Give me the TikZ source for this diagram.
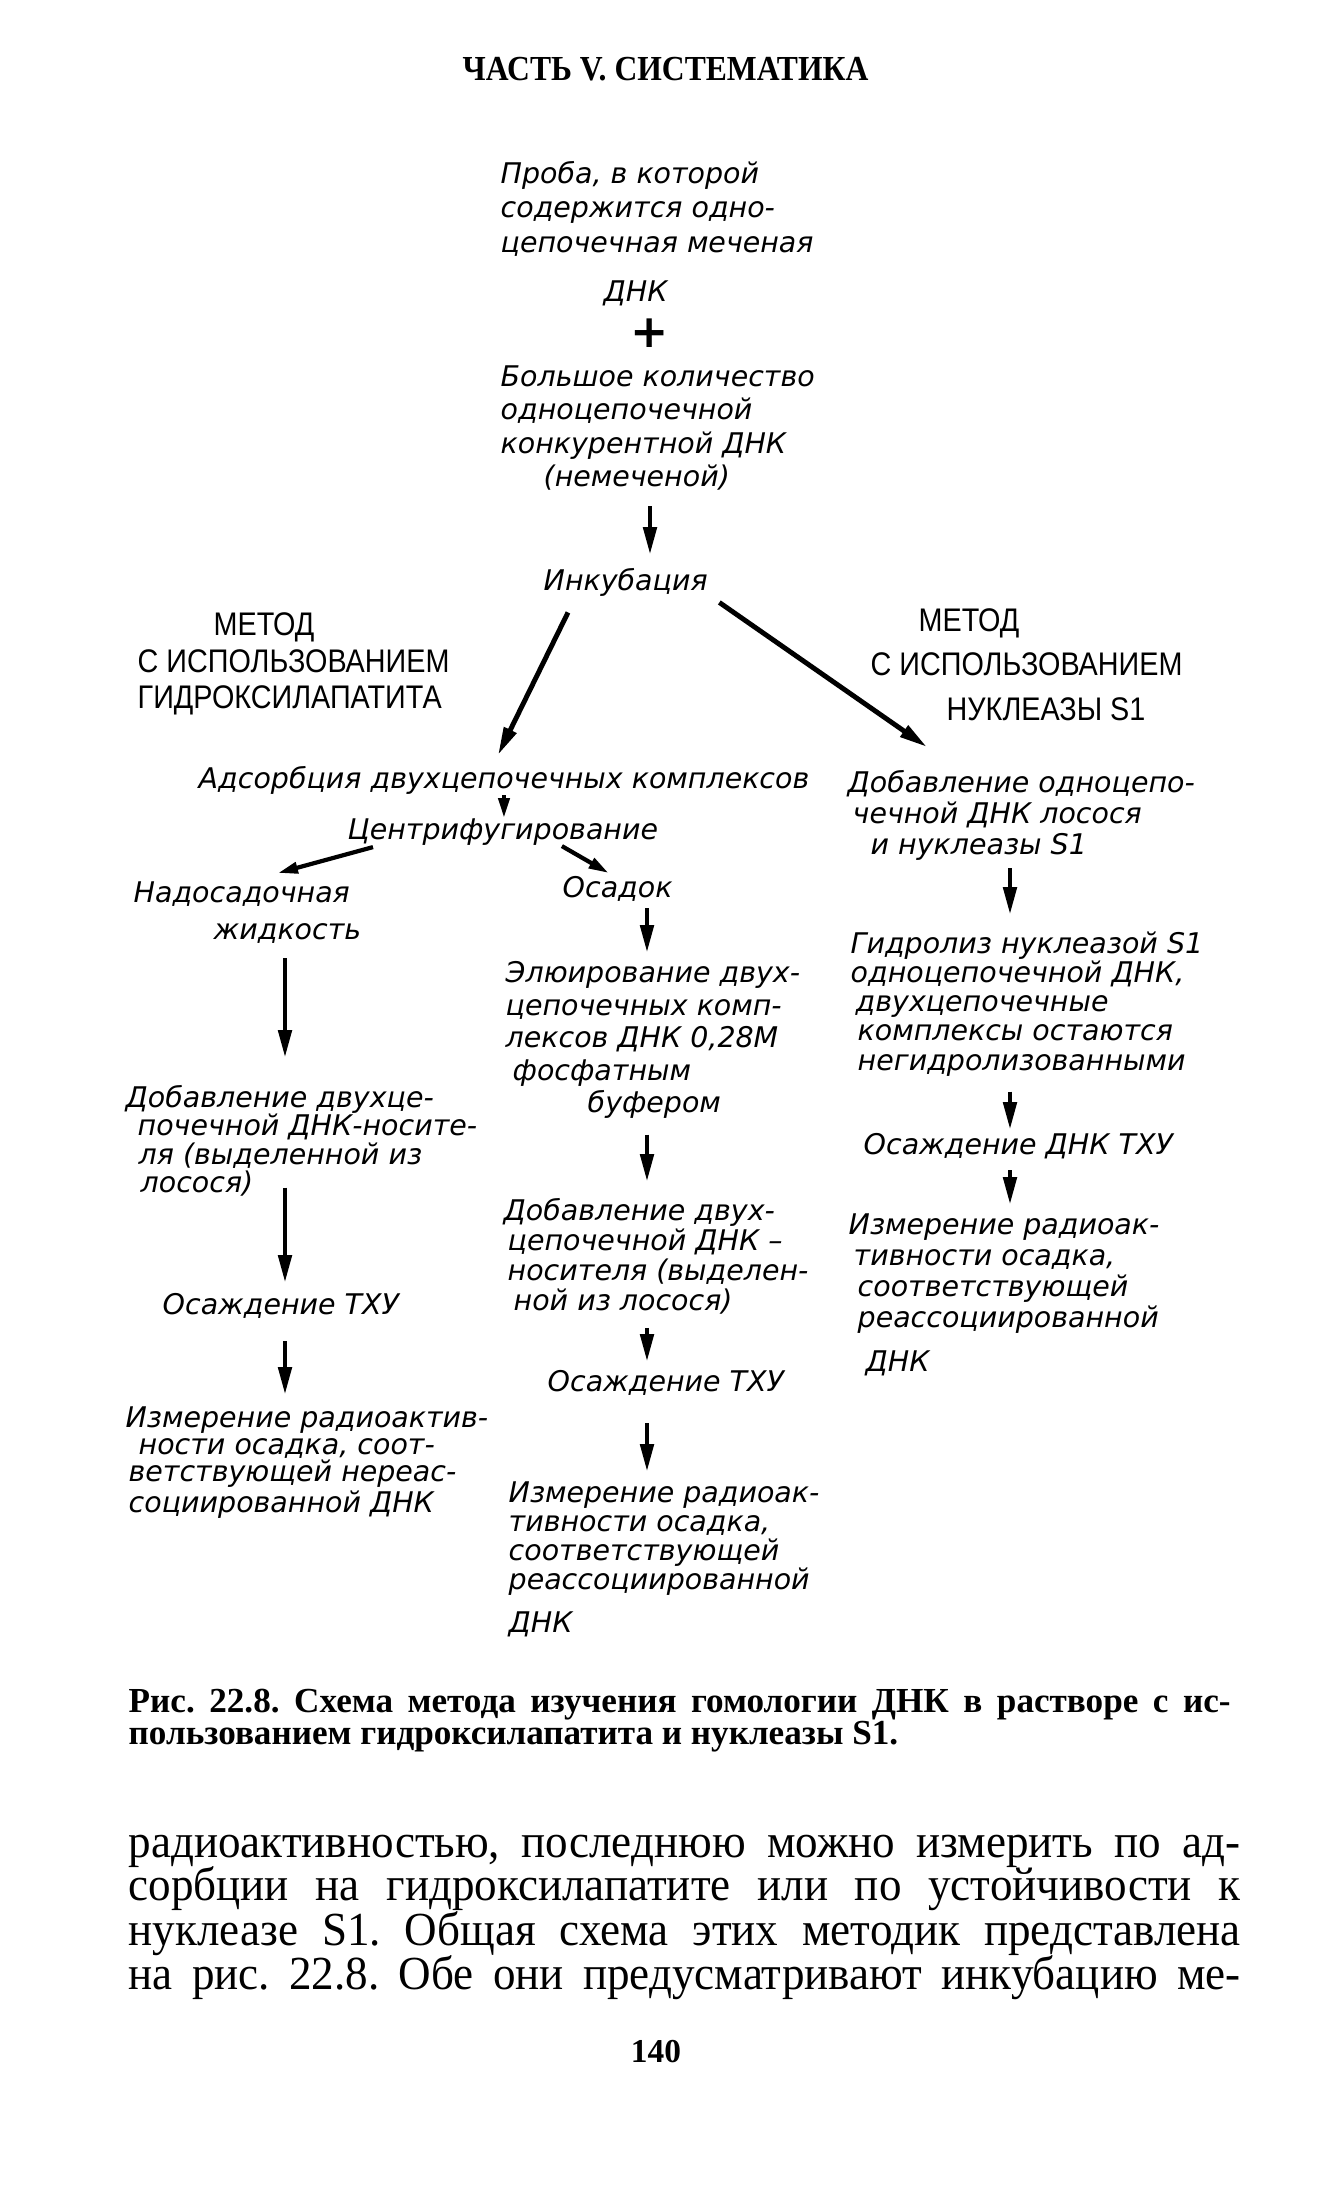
\documentclass[tikz,border=0pt]{standalone}
\usepackage{fontspec}
\setmainfont{Liberation Serif}
\newfontfamily\drawfont{DejaVu Sans Oblique}
\newfontfamily\plusfont{DejaVu Sans Bold}
\newfontfamily\titlefont[FakeStretch=0.88]{Liberation Sans}
\newfontfamily\headfont[FakeStretch=0.9]{Liberation Serif}
\newfontfamily\bodyfont[FakeStretch=0.95]{Liberation Serif}
\usetikzlibrary{arrows.meta}
\frenchspacing

\begin{document}
\begin{tikzpicture}[x=0.1mm, y=-0.1mm,
    hand/.style={font=\drawfont\fontsize{8.1pt}{#1}\selectfont, align=left, anchor=north west, inner sep=0pt},
    hand/.default=8.5pt,
    methodhead/.style={font=\titlefont\fontsize{9.3pt}{#1}\selectfont, align=left, anchor=north west, inner sep=0pt},
    bodyline/.style={anchor=base west, inner sep=0pt, font=\bodyfont\fontsize{13.5pt}{13.5pt}\selectfont},
    capline/.style={anchor=base west, inner sep=0pt, font=\bfseries\fontsize{10pt}{10pt}\selectfont},
    flow/.style={-{Triangle[length=2.8mm,width=1.3mm]}, line width=1.4pt},
    flowsm/.style={-{Triangle[length=2mm,width=1.1mm]}, line width=1.2pt}]
    \fill[white] (0,0) rectangle (1326,2185);
    \useasboundingbox (0,0) rectangle (1326,2185);

    % page header
    \node[font=\headfont\bfseries\fontsize{10pt}{10pt}\selectfont, anchor=north west, inner sep=0pt] (head) at (462,57) {ЧАСТЬ V. СИСТЕМАТИКА};

    % column axes
    \coordinate (mainaxis) at (650,0);
    \coordinate (colL) at (285,0);
    \coordinate (colM) at (647,0);
    \coordinate (colR) at (1010,0);

    % sample + competitor
    \node[hand=9.7pt] (probe) at (500,161) {Проба, в которой\\содержится одно-\\цепочечная меченая\\[4.3pt]\hspace*{10.3mm}ДНК};
    \node[font=\plusfont\fontsize{13pt}{13pt}\selectfont, inner sep=0pt] (plus) at (650,333) {+};
    \node[hand=9.5pt] (large) at (500,365) {Большое количество\\одноцепочечной\\конкурентной ДНК\\\hspace*{4.3mm}(немеченой)};
    \node[hand] (incub) at (543,568) {Инкубация};
    \draw[flow, shorten <=1.5mm, shorten >=1.3mm] (large.south -| mainaxis) -- (incub.north -| mainaxis);

    % method titles
    \node[methodhead=10.4pt] (hydroxy) at (137,612) {\hspace*{7.6mm}МЕТОД\\С ИСПОЛЬЗОВАНИЕМ\\ГИДРОКСИЛАПАТИТА};
    \node[methodhead=12.6pt] (nuclease) at (870,608) {\hspace*{4.8mm}МЕТОД\\С ИСПОЛЬЗОВАНИЕМ\\\hspace*{7.6mm}НУКЛЕАЗЫ S1};

    % hydroxylapatite branch
    \node[hand] (adsorb) at (198,766) {Адсорбция двухцепочечных комплексов};
    \node[hand] (centr) at (347,818) {Центрифугирование};
    \node[hand=10.5pt] (nad) at (133,881) {Надосадочная\\\hspace*{8mm}жидкость};
    \node[hand] (osad) at (562,876) {Осадок};
    \draw[flow] ([shift={(25,15)}]incub.south west) -- ([shift={(300,-11)}]adsorb.north west);
    \draw[flowsm] (adsorb.south) -- (adsorb.south |- centr.north);
    \draw[flowsm] ([shift={(26,1)}]centr.south west) -- ([shift={(145,-8)}]nad.north west);
    \draw[flowsm] ([shift={(59,0)}]centr.south) -- ([shift={(-9,-3)}]osad.north);

    % supernatant
    \node[hand=8pt] (dobL) at (125,1085) {Добавление двухце-\\\hspace*{1.2mm}почечной ДНК-носите-\\\hspace*{1.3mm}ля (выделенной из\\\hspace*{1.5mm}лосося)};
    \node[hand] (osL) at (162,1293) {Осаждение ТХУ};
    \node[hand=7.7pt] (izmL) at (125,1406) {Измерение радиоактив-\\\hspace*{1.3mm}ности осадка, соот-\\\hspace*{0.3mm}ветствующей нереас-\\\hspace*{0.3mm}социированной ДНК};
    \draw[flow, shorten <=1.4mm, shorten >=2.7mm] (nad.south -| colL) -- (dobL.north -| colL);
    \draw[flow, shorten <=-0.9mm, shorten >=1mm] (dobL.south -| colL) -- (osL.north -| colL);
    \draw[flow, shorten <=2.2mm, shorten >=1.1mm] (osL.south -| colL) -- (izmL.north -| colL);

    % pellet
    \node[hand=9.25pt] (elu) at (505,961) {Элюирование двух-\\цепочечных комп-\\лексов ДНК 0,28М\\\hspace*{0.7mm}фосфатным\\\hspace*{8.2mm}буфером};
    \node[hand=8.5pt] (dobM) at (503,1198) {Добавление двух-\\\hspace*{0.4mm}цепочечной ДНК –\\\hspace*{0.4mm}носителя (выделен-\\\hspace*{1mm}ной из лосося)};
    \node[hand] (osM) at (547,1370) {Осаждение ТХУ};
    \node[hand=8.25pt] (izmM) at (508,1481) {Измерение радиоак-\\тивности осадка,\\соответствующей\\реассоциированной\\[4pt]ДНК};
    \draw[flow, shorten <=0.6mm, shorten >=0.8mm] (osad.south -| colM) -- (elu.north -| colM);
    \draw[flow, shorten <=1.5mm, shorten >=1.6mm] (elu.south -| colM) -- (dobM.north -| colM);
    \draw[flow, shorten <=1.3mm, shorten >=0.8mm] (dobM.south -| colM) -- (osM.north -| colM);
    \draw[flow, shorten <=2.7mm, shorten >=0.9mm] (osM.south -| colM) -- (izmM.north -| colM);

    % nuclease S1 branch
    \node[hand=8.8pt] (dobR) at (847,770) {Добавление одноцепо-\\\hspace*{0.5mm}чечной ДНК лосося\\\hspace*{2.3mm}и нуклеазы S1};
    \node[hand=8.3pt] (hydr) at (850,931) {Гидролиз нуклеазой S1\\одноцепочечной ДНК,\\\hspace*{0.5mm}двухцепочечные\\\hspace*{0.7mm}комплексы остаются\\\hspace*{0.7mm}негидролизованными};
    \node[hand] (osR) at (863,1133) {Осаждение ДНК ТХУ};
    \node[hand=8.8pt] (izmR) at (848,1213) {Измерение радиоак-\\\hspace*{0.5mm}тивности осадка,\\\hspace*{0.9mm}соответствующей\\\hspace*{0.9mm}реассоциированной\\[3.7pt]\hspace*{1.7mm}ДНК};
    \draw[flow] ([shift={(11,5)}]incub.south east) -- ([shift={(80,-23)}]dobR.north west);
    \draw[flow, shorten <=0.7mm, shorten >=1.6mm] (dobR.south -| colR) -- (hydr.north -| colR);
    \draw[flow, shorten <=1.5mm, shorten >=0.3mm] (hydr.south -| colR) -- (osR.north -| colR);
    \draw[flow, shorten <=1mm, shorten >=0.8mm] (osR.south -| colR) -- (izmR.north -| colR);

    % caption and running text
    \node[capline] (cap1) at (128,1712) {\makebox[110.2mm][s]{Рис. 22.8. Схема метода изучения гомологии ДНК в растворе с ис-}};
    \node[capline] (cap2) at (128,1744) {пользованием гидроксилапатита и нуклеазы S1.};
    \node[bodyline] (body1) at (128,1857) {\makebox[111.2mm][s]{радиоактивностью, последнюю можно измерить по ад-}};
    \node[bodyline] (body2) at (128,1900) {\makebox[111.2mm][s]{сорбции на гидроксилапатите или по устойчивости к}};
    \node[bodyline] (body3) at (128,1945) {\makebox[111.2mm][s]{нуклеазе S1. Общая схема этих методик представлена}};
    \node[bodyline] (body4) at (128,1989) {\makebox[111.2mm][s]{на рис. 22.8. Обе они предусматривают инкубацию ме-}};
    \node[anchor=base, inner sep=0pt, font=\bfseries\fontsize{9.5pt}{9.5pt}\selectfont] (pagenum) at (656,2062) {140};
\end{tikzpicture}
\end{document}
